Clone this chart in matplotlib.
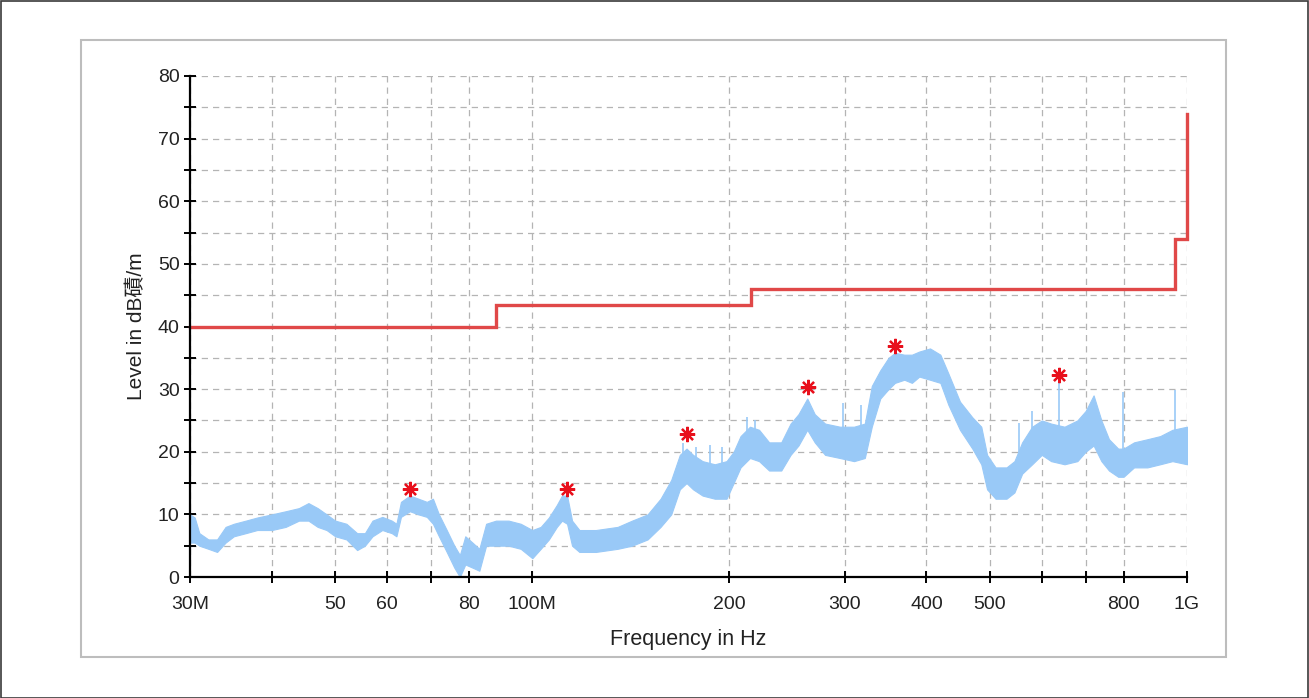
import matplotlib
matplotlib.use("Agg")
import matplotlib.pyplot as plt
from matplotlib.patches import Rectangle
from matplotlib.ticker import FixedLocator, FixedFormatter, NullLocator

plt.rcParams['font.family'] = ['Liberation Sans', 'Noto Sans CJK SC', 'DejaVu Sans']

# ---- data (frequencies in MHz, levels in dB) ----
trace_freq = [30.0, 30.5, 31.0, 32.0, 33.0, 34.0, 35.0, 36.5, 38.0, 40.0, 42.0, 44.0,
              45.5, 47.0, 48.5, 50.0, 52.0, 54.0, 55.5, 57.0, 59.0, 61.0, 62.0, 63.0,
              65.0, 67.0, 69.0, 70.5, 72.0, 74.0, 76.0, 77.5, 79.0, 81.0, 83.0, 85.0,
              88.0, 92.0, 96.0, 100.0, 103.0, 106.0, 109.0, 111.0, 113.0, 115.0, 118.0,
              125.0, 135.0, 142.0, 150.0, 157.0, 163.0, 168.0, 172.0, 176.0, 182.0,
              190.0, 198.0, 203.0, 208.0, 215.0, 222.0, 230.0, 240.0, 248.0, 255.0,
              263.0, 270.0, 280.0, 295.0, 310.0, 322.0, 330.0, 340.0, 350.0, 358.0,
              370.0, 380.0, 390.0, 405.0, 420.0, 432.0, 450.0, 470.0, 485.0, 495.0,
              510.0, 530.0, 545.0, 560.0, 580.0, 600.0, 620.0, 650.0, 680.0, 700.0,
              720.0, 740.0, 760.0, 785.0, 800.0, 830.0, 870.0, 910.0, 950.0, 1000.0]
trace_low = [5.5, 5.5, 5.0, 4.5, 4.0, 5.5, 6.5, 7.0, 7.5, 7.5, 8.0, 9.0,
             9.0, 8.0, 7.5, 6.5, 6.0, 4.3, 5.0, 6.5, 7.5, 7.0, 6.5, 9.6,
             10.5, 10.0, 9.6, 8.5, 6.5, 4.0, 1.5, 0.0, 2.0, 1.5, 1.0, 5.0,
             5.0, 5.0, 4.5, 3.0, 4.5, 6.0, 8.0, 9.0, 8.5, 5.0, 4.0,
             4.0, 4.5, 5.0, 6.0, 8.0, 10.0, 14.0, 15.0, 14.0, 13.0,
             12.5, 12.5, 15.0, 17.5, 19.0, 18.5, 17.0, 17.0, 19.5, 21.0,
             23.5, 21.5, 19.5, 19.0, 18.5, 19.0, 24.0, 28.5, 30.0, 31.0,
             31.5, 31.0, 32.0, 31.5, 31.0, 27.5, 23.5, 20.5, 18.0, 14.0,
             12.5, 12.5, 13.5, 16.5, 18.0, 19.5, 18.5, 18.0, 18.5, 20.0,
             21.0, 18.5, 17.0, 16.0, 16.0, 17.5, 17.5, 18.0, 18.5, 18.0]
trace_high = [10.0, 9.5, 7.0, 6.0, 6.0, 8.0, 8.5, 9.0, 9.5, 10.0, 10.5, 11.0,
              11.8, 11.0, 10.0, 9.0, 8.5, 7.0, 7.0, 9.0, 9.6, 9.0, 8.5, 12.0,
              13.0, 12.5, 12.0, 12.5, 10.0, 7.5, 5.0, 3.5, 6.5, 5.5, 4.5, 8.5,
              9.0, 9.0, 8.5, 7.5, 8.0, 9.5, 11.5, 13.0, 13.0, 9.0, 7.5,
              7.5, 8.0, 9.0, 10.0, 12.5, 15.5, 19.5, 20.5, 19.5, 18.5,
              18.0, 18.5, 20.0, 22.5, 24.0, 23.5, 21.5, 21.5, 24.5, 26.0,
              28.5, 26.0, 24.5, 24.0, 24.0, 24.5, 30.5, 33.0, 35.0, 35.8,
              35.5, 35.5, 36.0, 36.5, 35.5, 32.5, 28.0, 25.5, 24.0, 19.5,
              17.5, 17.5, 18.5, 21.5, 24.0, 25.0, 24.5, 24.0, 25.0, 26.5,
              29.0, 25.0, 22.0, 20.5, 20.5, 21.5, 22.0, 22.5, 23.5, 24.0]

spike_freq = [170.0, 178.0, 187.0, 195.0, 213.0, 219.0, 258.0, 298.0, 318.0, 553.0, 580.0, 637.0, 798.0, 960.0]
spike_base = [17.0, 17.0, 16.0, 16.0, 21.0, 21.0, 23.0, 22.0, 22.0, 16.0, 21.0, 22.0, 18.0, 20.0]
spike_top = [21.4, 20.8, 21.0, 20.8, 25.5, 25.0, 26.5, 27.8, 27.5, 24.6, 26.5, 31.5, 29.5, 29.8]

limit_freq = [30.0, 88.0, 88.0, 216.0, 216.0, 960.0, 960.0, 1000.0, 1000.0]
limit_level = [40.0, 40.0, 43.5, 43.5, 46.0, 46.0, 54.0, 54.0, 74.0]

peak_freq = [65.0, 113.0, 172.3, 263.7, 358.2, 637.6]
peak_level = [14.0, 14.0, 22.8, 30.3, 36.9, 32.3]

xtick_vals = [30, 40, 50, 60, 70, 80, 100, 200, 300, 400, 500, 600, 700, 800, 1000]
xtick_labels = ["30M", "", "50", "60", "", "80", "100M", "200", "300", "400", "500", "", "", "800", "1G"]

# ---- figure ----
W, H = 1309, 698
fig = plt.figure(figsize=(W / 100, H / 100), dpi=100)
fig.patch.set_facecolor("white")

# outer border and inner panel
fig.add_artist(Rectangle((0.5 / W, 0.5 / H), 1 - 1.5 / W, 1 - 1.5 / H, transform=fig.transFigure,
                         fill=False, edgecolor="#3a3a3a", linewidth=1.2))
fig.add_artist(Rectangle((81 / W, 1 - 657 / H), (1226 - 81) / W, (657 - 40) / H,
                         transform=fig.transFigure, fill=False, edgecolor="#bdbdbd", linewidth=1.5))

ax = fig.add_axes([190 / W, 1 - 577 / H, (1187 - 190) / W, (577 - 76) / H])
ax.set_xscale("log")
ax.set_xlim(30, 1000)
ax.set_ylim(0, 80)

blue = "#99c9f7"
ax.fill_between(trace_freq, trace_low, trace_high, color=blue, linewidth=0.8, edgecolor=blue, zorder=3)
ax.vlines(spike_freq, spike_base, spike_top, color=blue, linewidth=1.2, zorder=3)

ax.plot(limit_freq, limit_level, color="#e04848", linewidth=2.4, zorder=4,
        solid_joinstyle="miter", clip_on=False)

ax.plot(peak_freq, peak_level, linestyle="none", marker=(8, 2, 0), markersize=11,
        markeredgewidth=1.6, color="#e8101c", zorder=5)
ax.plot(peak_freq, peak_level, linestyle="none", marker="o", markersize=4, color="#e8101c", zorder=5)

# ticks
ax.xaxis.set_major_locator(FixedLocator(xtick_vals))
ax.xaxis.set_major_formatter(FixedFormatter(xtick_labels))
ax.xaxis.set_minor_locator(NullLocator())
ax.set_yticks(range(0, 81, 10))
ax.set_yticks(range(5, 81, 10), minor=True)

ax.tick_params(axis="both", which="both", direction="inout", length=9, width=1.4, color="black",
               labelsize=14, labelcolor="#222222")
ax.tick_params(axis="x", which="major", pad=9)
ax.tick_params(axis="y", which="major", pad=3)

ax.grid(True, which="both", axis="y", color="#b4b4b4", linestyle=(0, (5, 4)), linewidth=0.9)
ax.grid(True, which="major", axis="x", color="#b4b4b4", linestyle=(0, (5, 4)), linewidth=0.9)
ax.set_axisbelow(True)

for s in ["top", "right"]:
    ax.spines[s].set_visible(False)
for s in ["left", "bottom"]:
    ax.spines[s].set_linewidth(1.6)
    ax.spines[s].set_color("black")
    ax.spines[s].set_zorder(6)

ax.set_xlabel("Frequency in Hz", fontsize=15.5, color="#222222", labelpad=12)
ax.set_ylabel("Level in dB磧/m", fontsize=15, color="#222222", labelpad=8)

fig.savefig("out.png", dpi=100, facecolor="white")
